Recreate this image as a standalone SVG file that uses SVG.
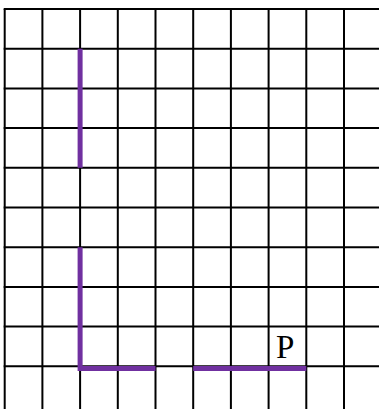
<svg xmlns="http://www.w3.org/2000/svg" width="379" height="409" viewBox="0 0 379 409">
<style>
.g{stroke:#000;stroke-width:2;fill:none}
.p{stroke:#7030A0;stroke-width:5;fill:none;stroke-linecap:butt}
.t{font-family:"Liberation Serif",serif;font-size:33px;fill:#000}
</style>
<rect width="379" height="409" fill="#fff"/>
<g id="grid" class="g">
<path d="M4.7 9V409M42.4 9V409M80.1 9V409M117.8 9V409M155.5 9V409M193.2 9V409M230.9 9V409M268.6 9V409M306.3 9V409M344 9V409"/>
<path d="M3.7 9H379M3.7 48.7H379M3.7 88.4H379M3.7 128.1H379M3.7 167.8H379M3.7 207.5H379M3.7 247.2H379M3.7 286.9H379M3.7 326.6H379M3.7 366.3H379"/>
</g>
<g id="connectors" class="p">
<path d="M80.1 48.7V167.8"/>
<path d="M80.1 247.2V368.5H155.5"/>
<path d="M193.2 368.5H306.3"/>
</g>
<g id="label-P">
<text class="t" x="276" y="358">P</text>
</g>
</svg>
